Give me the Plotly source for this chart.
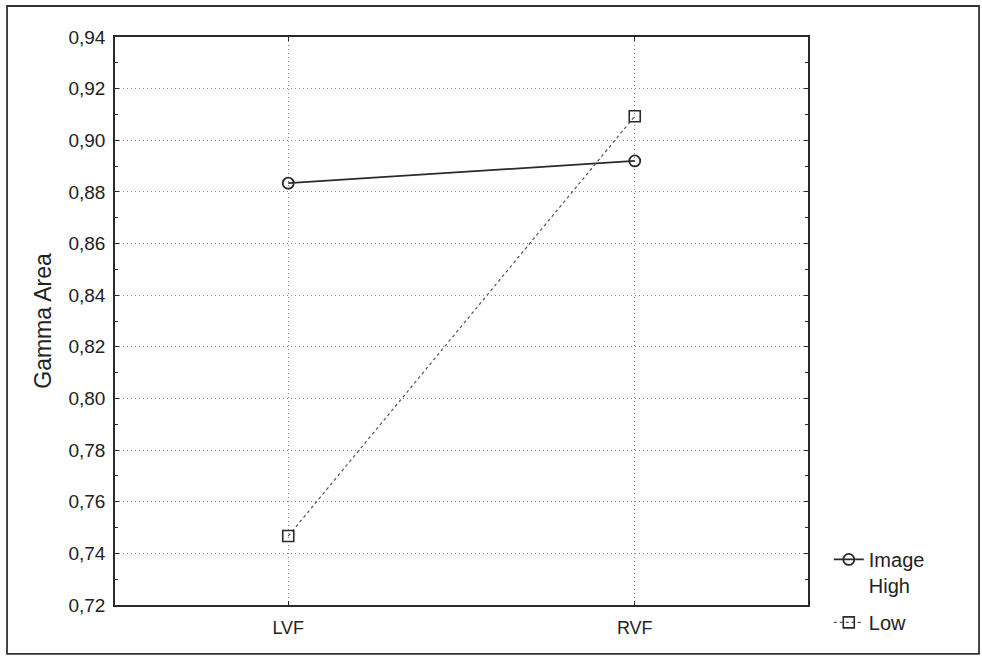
import plotly.graph_objects as go

categories = ["LVF", "RVF"]
high_values = [0.8834, 0.892]
low_values = [0.7467, 0.9093]
series_names = ["Image<br>High", "Low"]
y_ticks = [0.72, 0.74, 0.76, 0.78, 0.80, 0.82, 0.84, 0.86, 0.88, 0.90, 0.92, 0.94]

ink = "#2a2a2a"
fig = go.Figure()
fig.add_trace(go.Scatter(
    x=categories, y=high_values, name=series_names[0], mode="lines+markers",
    legendgroup="a",
    line=dict(color=ink, width=1.8),
    marker=dict(symbol="circle-open", size=11, color=ink, line=dict(width=1.8)),
))
fig.add_trace(go.Scatter(
    x=categories, y=low_values, name=series_names[1], mode="lines+markers",
    legendgroup="b",
    line=dict(color="#555555", width=1.2, dash="dot"),
    marker=dict(symbol="square-open", size=11, color=ink, line=dict(width=1.6)),
))

grid_style = dict(showgrid=True, gridcolor="#8a8a8a", griddash="1px,3px", gridwidth=1)

fig.update_layout(
    width=982, height=656,
    margin=dict(l=115, r=174, t=37, b=51),
    paper_bgcolor="white", plot_bgcolor="white",
    separators=", ",
    font=dict(family="Liberation Sans, Arial, sans-serif", color="#222222", size=18),
    showlegend=True,
    legend=dict(
        x=1.03, xanchor="left", y=-0.065, yanchor="bottom",
        font=dict(size=20), valign="top", tracegroupgap=8,
        bgcolor="rgba(0,0,0,0)", itemwidth=30,
    ),
    xaxis=dict(
        type="category", range=[-0.5, 1.5],
        showline=True, linecolor=ink, linewidth=1.5, mirror="ticks",
        ticks="inside", ticklen=4, tickcolor=ink, ticklabelstandoff=6,
        tickfont=dict(size=18), zeroline=False, **grid_style,
    ),
    yaxis=dict(
        range=[0.72, 0.94], tickvals=y_ticks, tickformat=".2f",
        showline=True, linecolor=ink, linewidth=1.5, mirror="ticks",
        ticks="inside", ticklen=4, tickcolor=ink, ticklabelstandoff=4,
        minor=dict(dtick=0.01, ticks="inside", ticklen=3, tickcolor=ink, showgrid=False),
        tickfont=dict(size=19), zeroline=False, **grid_style,
        title=dict(text="Gamma Area", font=dict(size=23), standoff=10),
    ),
    shapes=[dict(
        type="rect", xref="paper", yref="paper",
        x0=-0.1558, x1=1.2468, y0=-0.086, y1=1.0546,
        line=dict(color="#333333", width=1.8), layer="below",
    )],
)

fig.write_html("out.html")
